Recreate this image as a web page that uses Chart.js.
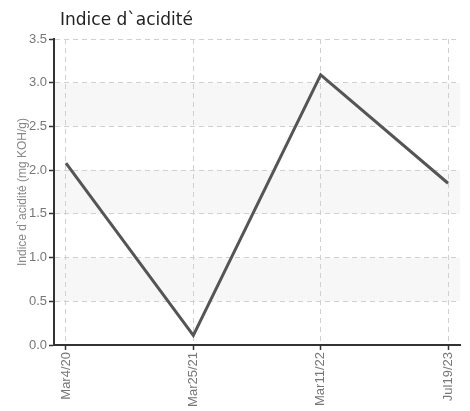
<!DOCTYPE html>
<html>
<head>
<meta charset="utf-8">
<script src="https://cdn.jsdelivr.net/npm/chart.js@4/dist/chart.umd.min.js"></script>
<style>
  html, body { margin: 0; padding: 0; background: #fff; }
  #wrap { width: 470px; height: 411px; position: relative; }
</style>
</head>
<body>
<div id="wrap"><canvas id="chart" width="470" height="411"></canvas></div>
<script>
'use strict';

// ─── Data ─────────────────────────────────────────────────────────────────────
const dates   = ['Mar4/20', 'Mar25/21', 'Mar11/22', 'Jul19/23'];
const acidity = [2.08, 0.11, 3.09, 1.85];
const yTicks  = [0, 0.5, 1, 1.5, 2, 2.5, 3, 3.5];

const TITLE  = 'Indice d`acidité';
const YTITLE = 'Indice d`acidité (mg KOH/g)';
const TICK_FONT = "'Liberation Sans Narrow', sans-serif";

// ─── Plugins ──────────────────────────────────────────────────────────────────
const bands = {
  id: 'bands',
  beforeDraw(chart) {
    const { ctx, chartArea: a, scales: { y } } = chart;
    ctx.save();
    ctx.fillStyle = '#f7f7f7';
    for (let i = 1; i < yTicks.length - 1; i += 2) {
      const top = y.getPixelForValue(yTicks[i + 1]);
      const bot = y.getPixelForValue(yTicks[i]);
      ctx.fillRect(a.left, top, a.right - a.left, bot - top);
    }
    ctx.restore();
  },
};

const titleText = {
  id: 'titleText',
  afterDraw(chart) {
    const ctx = chart.ctx;
    ctx.save();
    ctx.font = "17px 'DejaVu Sans', sans-serif";
    ctx.fillStyle = '#222';
    ctx.textBaseline = 'alphabetic';
    ctx.fillText(TITLE, 60, 25);
    ctx.restore();
  },
};

// ─── Chart ────────────────────────────────────────────────────────────────────
new Chart(document.getElementById('chart').getContext('2d'), {
  type: 'line',
  data: {
    datasets: [{
      data: acidity.map((v, i) => ({ x: i, y: v })),
      borderColor: '#555',
      borderWidth: 3,
      pointRadius: 0,
      tension: 0,
      fill: false,
    }],
  },
  options: {
    responsive: false,
    animation: false,
    layout: { padding: { top: 39, right: 10, left: 8, bottom: 0 } },
    plugins: { legend: { display: false }, tooltip: { enabled: false } },
    scales: {
      x: {
        type: 'linear',
        min: -0.094,
        max: 3.094,
        afterBuildTicks: (s) => { s.ticks = dates.map((_, i) => ({ value: i })); },
        afterFit: (s) => { s.height = 66; },
        grid: { color: '#d0d0d0', tickColor: '#333', tickLength: 5, tickBorderDash: [], tickWidth: 1.5 },
        border: { color: '#333', width: 2, dash: [5, 4] },
        ticks: {
          callback: (v) => dates[v],
          minRotation: 90,
          maxRotation: 90,
          padding: 2,
          color: '#777',
          font: { family: TICK_FONT, size: 13 },
        },
      },
      y: {
        min: 0,
        max: 3.5,
        afterBuildTicks: (s) => { s.ticks = yTicks.map((v) => ({ value: v })); },
        afterFit: (s) => { s.width = 46; },
        grid: { color: '#d0d0d0', tickColor: '#333', tickLength: 5, tickBorderDash: [], tickWidth: 1.5 },
        border: { color: '#333', width: 2, dash: [5, 4] },
        ticks: {
          callback: (v) => v.toFixed(1),
          padding: 2,
          color: '#777',
          font: { family: TICK_FONT, size: 13 },
        },
        title: {
          display: true,
          text: YTITLE,
          color: '#888',
          padding: { top: 7, bottom: 2 },
          font: { family: TICK_FONT, size: 12 },
        },
      },
    },
  },
  plugins: [bands, titleText],
});
</script>
</body>
</html>
